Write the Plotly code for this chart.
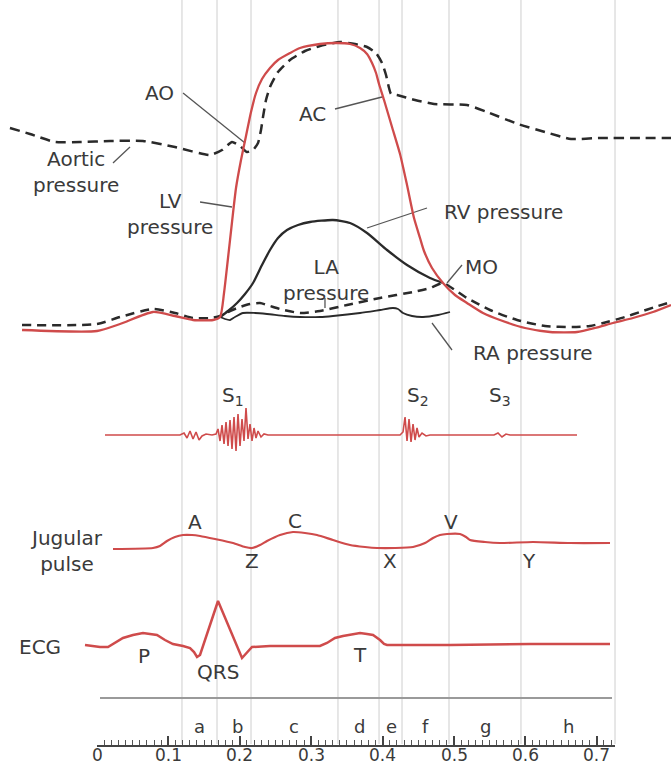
import plotly.graph_objects as go

# ---------------- data (time in s, value in plot units, larger = lower on page) -------------
aortic_t = [-0.1219, -0.0938, -0.0588, -0.0238, 0.0182, 0.0644, 0.1092, 0.1583, 0.1751, 0.1891,
            0.2003, 0.2101, 0.2185, 0.2255, 0.2297, 0.2325, 0.2367, 0.2423, 0.2535, 0.2703,
            0.2913, 0.3123, 0.3403, 0.3613, 0.3782, 0.3908, 0.3992, 0.4048, 0.4090, 0.4118,
            0.4202, 0.4454, 0.4720, 0.5182, 0.5462, 0.5896, 0.6275, 0.6639, 0.7045, 0.7605, 0.8039]
aortic_v = [128, 134, 142, 142, 141, 141, 147, 155, 150, 142,
            146, 152, 150, 143, 130, 117, 100, 87, 72, 60,
            51, 46, 42, 44, 47, 53, 63, 75, 88, 94,
            95, 100, 104, 105, 112, 124, 132, 139, 138, 138, 138]

lv_t = [-0.1050, 0.0, 0.0322, 0.0784, 0.1092, 0.1345, 0.1625, 0.1723, 0.1779, 0.1835,
        0.1891, 0.1947, 0.2017, 0.2087, 0.2157, 0.2227, 0.2311, 0.2423, 0.2535, 0.2703,
        0.2843, 0.3123, 0.3361, 0.3544, 0.3684, 0.3782, 0.3852, 0.3908, 0.3950, 0.4020,
        0.4132, 0.4244, 0.4342, 0.4440, 0.4524, 0.4580, 0.4692, 0.4846, 0.5014, 0.5182,
        0.5406, 0.5644, 0.5995, 0.6345, 0.6723, 0.6975, 0.7227, 0.7507, 0.7787, 0.8039]
lv_v = [330, 331, 324, 312, 316, 320, 320, 317, 293, 258,
        222, 188, 160, 136, 112, 93, 79, 68, 60, 53,
        48, 44, 43, 44, 48, 54, 63, 73, 84, 100,
        127, 154, 185, 218, 238, 251, 268, 283, 295, 303,
        313, 320, 328, 332, 332, 328, 323, 318, 312, 305]

la_t = [-0.1050, 0.0, 0.0322, 0.0784, 0.1092, 0.1345, 0.1583, 0.1723, 0.1863, 0.2003,
        0.2143, 0.2283, 0.2423, 0.2563, 0.2843, 0.3123, 0.3502, 0.3964, 0.4426, 0.4664,
        0.4846, 0.5014, 0.5182, 0.5504, 0.5883, 0.6275, 0.6667, 0.6905, 0.7143, 0.7395,
        0.7605, 0.7815, 0.8039]
la_v = [325, 324, 317, 309, 313, 318, 318, 316, 311, 307,
        304, 303, 306, 309, 313, 311, 305, 298, 292, 288,
        283, 290, 298, 310, 320, 326, 327, 326, 322, 317,
        312, 307, 302]

rv_t = [0.1723, 0.1835, 0.1961, 0.2073, 0.2185, 0.2311, 0.2423, 0.2535, 0.2661, 0.2815,
        0.2983, 0.3305, 0.3544, 0.3782, 0.4062, 0.4342, 0.4664, 0.4846]
rv_v = [317, 311, 303, 294, 283, 265, 250, 238, 230, 225,
        222, 220, 223, 233, 250, 265, 278, 283]

ra_t = [0.1723, 0.1793, 0.1863, 0.1933, 0.2045, 0.2213, 0.2381, 0.2633, 0.2843, 0.3123,
        0.3305, 0.3684, 0.3964, 0.4146, 0.4216, 0.4286, 0.4412, 0.4566, 0.4776, 0.4944]
ra_v = [317, 319, 320, 317, 313, 313, 314, 316, 317, 317,
        316, 313, 310, 308, 309, 313, 316, 317, 315, 312]

sound_t = [0.0112, 0.1162, 0.1219, 0.1261, 0.1303, 0.1345, 0.1387, 0.1429, 0.1471, 0.1527,
           0.1611, 0.1667, 0.1695, 0.1723, 0.1751, 0.1779, 0.1807, 0.1835, 0.1863, 0.1891,
           0.1919, 0.1947, 0.1975, 0.2003, 0.2031, 0.2059, 0.2087, 0.2115, 0.2143, 0.2171,
           0.2199, 0.2227, 0.2255, 0.2297, 0.2339, 0.2395, 0.4244, 0.4286, 0.4314, 0.4342,
           0.4370, 0.4398, 0.4426, 0.4454, 0.4482, 0.4510, 0.4552, 0.4608, 0.4664, 0.5560,
           0.5616, 0.5672, 0.5728, 0.5784, 0.6723]
sound_v = [435, 435, 433, 438, 431, 439, 432, 440, 436, 434,
           435, 434, 429, 441, 425, 444, 422, 446, 420, 449,
           417, 451, 414, 446, 419, 441, 408, 439, 424, 441,
           428, 438, 431, 437, 434, 435, 435, 432, 417, 441,
           419, 442, 424, 440, 428, 437, 433, 436, 435, 435,
           433, 437, 434, 435, 435]

jug_t = [0.0224, 0.0784, 0.0882, 0.0980, 0.1092, 0.1205, 0.1331, 0.1443, 0.1653, 0.1905,
         0.2073, 0.2171, 0.2283, 0.2381, 0.2563, 0.2745, 0.2913, 0.3081, 0.3305, 0.3544,
         0.3754, 0.3922, 0.4174, 0.4426, 0.4594, 0.4706, 0.4804, 0.4902, 0.5084, 0.5168,
         0.5224, 0.5434, 0.5644, 0.6107, 0.6625, 0.7185]
jug_v = [549, 548, 546, 541, 537, 535, 535, 536, 539, 543,
         547, 548, 545, 541, 535, 532, 533, 535, 540, 545,
         547, 548, 548, 547, 543, 538, 535, 534, 534, 537,
         540, 542, 543, 542, 543, 543]

ecg_t = [-0.0168, 0.0042, 0.0154, 0.0252, 0.0364, 0.0504, 0.0644, 0.0742, 0.0840, 0.0952,
         0.1064, 0.1205, 0.1303, 0.1359, 0.1401, 0.1443, 0.1695, 0.2031, 0.2101, 0.2171,
         0.2423, 0.2843, 0.3123, 0.3221, 0.3333, 0.3445, 0.3572, 0.3684, 0.3782, 0.3866,
         0.3964, 0.4020, 0.4062, 0.4944, 0.6065, 0.7185]
ecg_v = [645, 647, 647, 643, 638, 635, 633, 634, 635, 640,
         644, 646, 648, 652, 657, 655, 601, 658, 652, 647,
         646, 646, 646, 643, 638, 636, 634, 633, 634, 635,
         640, 644, 645, 645, 644, 644]

# event boundaries (vertical guide lines) and interval letters
event_t = [0.1190, 0.1681, 0.2157, 0.3375, 0.3950, 0.4272, 0.4930, 0.5938, 0.7255]
interval_labels = ["a", "b", "c", "d", "e", "f", "g", "h"]
interval_t = [0.1438, 0.1961, 0.2766, 0.3670, 0.4126, 0.4601, 0.5444, 0.6604]

# time axis tick labels
tick_vals = [0.0, 0.1, 0.2, 0.3, 0.4, 0.5, 0.6, 0.7]
tick_text = ["0", "0.1", "0.2", "0.3", "0.4", "0.5", "0.6", "0.7"]

# text labels: (text, t, level)
labels = [
    ("AO", 0.0882, 93), ("AC", 0.3025, 114), ("Aortic<br>pressure", -0.0294, 172),
    ("LV<br>pressure", 0.1022, 214), ("RV pressure", 0.5687, 212), ("LA<br>pressure", 0.3207, 280),
    ("MO", 0.5392, 267), ("RA pressure", 0.6107, 353),
    ("S<sub>1</sub>", 0.1905, 396), ("S<sub>2</sub>", 0.4496, 396), ("S<sub>3</sub>", 0.5644, 396),
    ("Jugular<br>pulse", -0.0434, 551), ("A", 0.1373, 522), ("C", 0.2773, 521), ("V", 0.4958, 522),
    ("Z", 0.2171, 561), ("X", 0.4104, 561), ("Y", 0.6051, 561),
    ("ECG", -0.0798, 647), ("P", 0.0658, 656), ("QRS", 0.1695, 672), ("T", 0.3684, 655),
]

# leader lines: (t0, v0, t1, v1)
leaders = [
    (0.1205, 93, 0.2073, 143),    # AO
    (0.0224, 163, 0.0462, 147),   # Aortic pressure
    (0.1443, 202, 0.1891, 207),   # LV
    (0.3333, 109, 0.3992, 97),    # AC
    (0.3782, 228, 0.4622, 208),   # RV
    (0.4902, 283, 0.5112, 265),   # MO
    (0.4692, 323, 0.4972, 350),   # RA
    (0.3193, 298, 0.3193, 308),   # LA
]

baseline_t = [0.0042, 0.7213]
baseline_v = [698, 698]

RED = "#cf4b4b"
DARK = "#2a2a2a"
TXT = "#3a3a3a"
FONT = "DejaVu Sans"

fig = go.Figure()

# vertical guides
vx, vy = [], []
for t in event_t:
    vx += [t, t, None]
    vy += [0, 744, None]
fig.add_trace(go.Scatter(x=vx, y=vy, mode="lines", line=dict(color="#d6d6d6", width=1.2),
                         hoverinfo="skip"))
fig.add_trace(go.Scatter(x=baseline_t, y=baseline_v, mode="lines",
                         line=dict(color="#9a9a9a", width=2), hoverinfo="skip"))

# leader lines
lx, ly = [], []
for t0, v0, t1, v1 in leaders:
    lx += [t0, t1, None]
    ly += [v0, v1, None]
fig.add_trace(go.Scatter(x=lx, y=ly, mode="lines", line=dict(color="#555555", width=1.3),
                         hoverinfo="skip"))

fig.add_trace(go.Scatter(x=la_t, y=la_v, mode="lines",
                         line=dict(color=DARK, width=2.5, dash="9px,6px", shape="spline", smoothing=0.6)))
fig.add_trace(go.Scatter(x=ra_t, y=ra_v, mode="lines",
                         line=dict(color=DARK, width=1.8, shape="spline", smoothing=0.6)))
fig.add_trace(go.Scatter(x=rv_t, y=rv_v, mode="lines",
                         line=dict(color=DARK, width=2.3, shape="spline", smoothing=0.6)))
fig.add_trace(go.Scatter(x=aortic_t, y=aortic_v, mode="lines",
                         line=dict(color=DARK, width=2.5, dash="10px,6px", shape="spline", smoothing=0.5)))
fig.add_trace(go.Scatter(x=lv_t, y=lv_v, mode="lines",
                         line=dict(color=RED, width=2.3, shape="spline", smoothing=0.6)))
fig.add_trace(go.Scatter(x=sound_t, y=sound_v, mode="lines",
                         line=dict(color=RED, width=1.6)))
fig.add_trace(go.Scatter(x=jug_t, y=jug_v, mode="lines",
                         line=dict(color=RED, width=2.2, shape="spline", smoothing=0.6)))
fig.add_trace(go.Scatter(x=ecg_t, y=ecg_v, mode="lines",
                         line=dict(color=RED, width=2.5)))

# ruler axis dummy
fig.add_trace(go.Scatter(x=[0], y=[0], xaxis="x2", yaxis="y2", mode="markers",
                         marker=dict(opacity=0), hoverinfo="skip"))

ann = []
for text, t, v in labels:
    ann.append(dict(x=t, y=v, xref="x", yref="y", text=text, showarrow=False,
                    xanchor="center", yanchor="middle",
                    font=dict(family=FONT, size=20, color=TXT)))
for text, t in zip(interval_labels, interval_t):
    ann.append(dict(x=t, y=726, xref="x", yref="y", text=text, showarrow=False,
                    xanchor="center", yanchor="middle",
                    font=dict(family=FONT, size=18, color=TXT)))
for text, t in zip(tick_text, tick_vals):
    ann.append(dict(x=t, y=755, xref="x", yref="y", text=text, showarrow=False,
                    xanchor="center", yanchor="middle",
                    font=dict(family=FONT, size=17, color=TXT)))

fig.update_layout(
    width=671, height=765, margin=dict(l=0, r=0, t=0, b=0),
    template="none", showlegend=False,
    paper_bgcolor="white", plot_bgcolor="rgba(0,0,0,0)",
    xaxis=dict(range=[-0.13585, 0.80392], domain=[0, 1], visible=False, fixedrange=True),
    yaxis=dict(range=[765, 0], domain=[0, 1], visible=False, fixedrange=True),
    xaxis2=dict(domain=[97 / 671, 615 / 671], range=[0, 0.7255], anchor="y2",
                showline=True, linecolor="#444444", linewidth=1.5,
                ticks="inside", ticklen=9, tickwidth=1.5, tickcolor="#444444",
                tickmode="array", tickvals=tick_vals, showticklabels=False,
                showgrid=False, zeroline=False, automargin=False,
                minor=dict(tickmode="linear", tick0=0, dtick=0.01, ticks="inside",
                           ticklen=5, tickwidth=1.2, tickcolor="#555555", showgrid=False)),
    yaxis2=dict(domain=[20 / 765, 60 / 765], range=[0, 1], visible=False, fixedrange=True),
    annotations=ann,
)

fig.write_html("out.html")
